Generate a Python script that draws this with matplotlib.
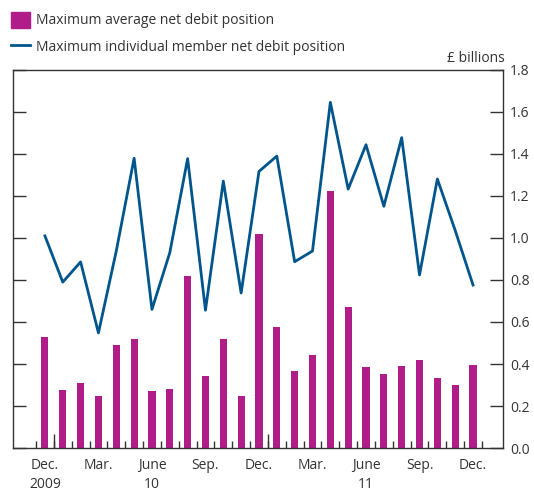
import numpy as np
import matplotlib
matplotlib.use("Agg")
import matplotlib.pyplot as plt
from matplotlib.patches import Patch
from matplotlib.lines import Line2D

plt.rcParams['font.family'] = ['Open Sans', 'DejaVu Sans']

# monthly, Dec. 2009 to Dec. 2011
avg_net_debit = [0.53, 0.275, 0.31, 0.25, 0.49, 0.52, 0.27, 0.28, 0.82, 0.345,
                 0.52, 0.25, 1.02, 0.575, 0.367, 0.443, 1.225, 0.67, 0.386,
                 0.354, 0.389, 0.417, 0.335, 0.298, 0.395]
max_member_debit = [1.01, 0.79, 0.886, 0.548, 0.938, 1.38, 0.66, 0.93, 1.378,
                    0.656, 1.271, 0.738, 1.317, 1.39, 0.887, 0.938, 1.646,
                    1.233, 1.444, 1.151, 1.478, 0.824, 1.281, 1.036, 0.776]
month_labels = ['Dec.', 'Mar.', 'June', 'Sep.', 'Dec.', 'Mar.', 'June', 'Sep.', 'Dec.']
year_labels = ['2009', '', '10', '', '', '', '11', '', '']

bar_col = '#B01C88'
line_col = '#00568C'
axis_col = '#333333'
text_col = '#333333'

x = np.arange(len(avg_net_debit))

fig = plt.figure(figsize=(5.34, 4.92), dpi=100)
ax = fig.add_axes([13 / 534, 1 - 448 / 492, 490 / 534, 378 / 492])

ax.bar(x, avg_net_debit, width=0.4, color=bar_col, zorder=2)
ax.plot(x, max_member_debit, color=line_col, lw=2.0, zorder=3)

ax.set_xlim(-1.79, 25.68)
ax.set_ylim(0, 1.8)

ax.yaxis.tick_right()
ax.set_yticks(np.arange(0, 1.81, 0.2))
ax.set_yticklabels([f'{v:.1f}' for v in np.arange(0, 1.81, 0.2)])
ax.tick_params(axis='y', which='major', direction='in', length=9.5, width=1,
               color=axis_col, left=True, right=True, labelleft=False,
               labelright=True, labelsize=10, labelcolor=text_col, pad=5)

# label ticks at quarters, boundary ticks between months
ax.set_xticks(x[::3])
ax.set_xticklabels(month_labels)
ax.set_xticks(np.arange(-0.5, len(x)), minor=True)
ax.tick_params(axis='x', which='major', length=0, labelsize=10,
               labelcolor=text_col, pad=7)
ax.tick_params(axis='x', which='minor', direction='in', length=5, width=1,
               color=axis_col)

for xi, yl in zip(x[::3], year_labels):
    if yl:
        ax.annotate(yl, (xi, 0), xycoords=('data', 'axes fraction'),
                    xytext=(0, -26.5), textcoords='offset points',
                    ha='center', va='center', fontsize=10, color=text_col)

yr = ax.secondary_xaxis('bottom')
yr.set_xticks([0.5, 12.5])
yr.set_xticklabels([])
yr.tick_params(direction='in', length=10, width=1, color=axis_col)
yr.spines['bottom'].set_visible(False)

for s in ax.spines.values():
    s.set_color(axis_col)
    s.set_linewidth(1)

fig.text(505 / 534, 1 - 58 / 492, '£ billions', ha='right', va='center',
         fontsize=10, color=text_col)

handles = [Patch(color=bar_col), Line2D([], [], color=line_col, lw=2)]
fig.legend(handles, ['Maximum average net debit position',
                     'Maximum individual member net debit position'],
           loc='upper left', bbox_to_anchor=(5 / 534, 1 - 6 / 492),
           frameon=False, fontsize=10, handlelength=1.4, handleheight=1.4,
           handletextpad=0.45, labelspacing=0.75, borderaxespad=0,
           labelcolor=text_col)

fig.savefig('out.png', dpi=100)
